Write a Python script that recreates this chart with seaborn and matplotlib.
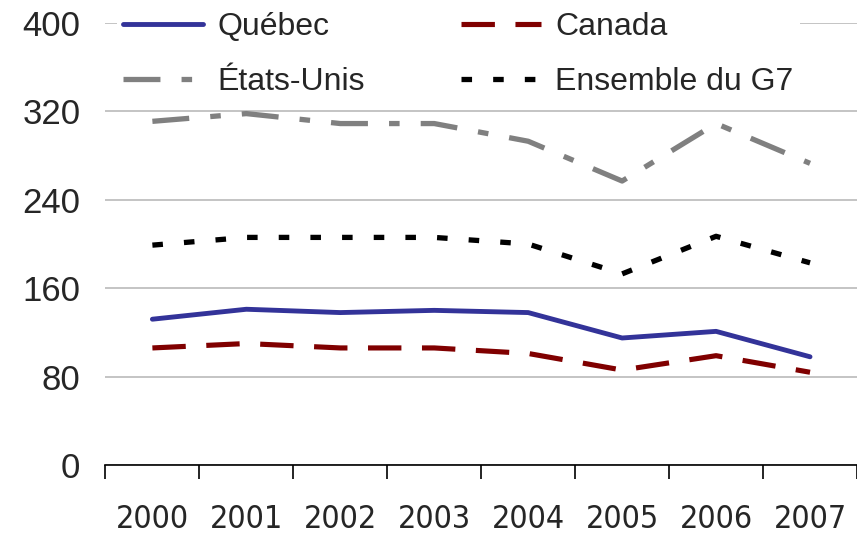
import numpy as np
import pandas as pd
import matplotlib
matplotlib.use("Agg")
import matplotlib.pyplot as plt
from matplotlib.ticker import FixedLocator
from matplotlib.lines import Line2D
import seaborn as sns

years = ["2000", "2001", "2002", "2003", "2004", "2005", "2006", "2007"]
quebec = [132, 141, 138, 140, 138, 115, 121, 98]
canada = [106, 110, 106, 106, 101, 86, 99, 84]
etats_unis = [311, 318, 309, 309, 293, 257, 309, 273]
g7 = [199, 206, 206, 206, 200, 173, 207, 183]
yticks = [0, 80, 160, 240, 320, 400]

series = {"Québec": quebec, "Canada": canada, "États-Unis": etats_unis, "Ensemble du G7": g7}
df = pd.DataFrame([
    {"annee": i, "serie": name, "valeur": v}
    for name, vals in series.items() for i, v in enumerate(vals)
])

palette = {"Québec": "#333399", "Canada": "#800000", "États-Unis": "#808080", "Ensemble du G7": "#000000"}
# dash patterns in units of line width (matplotlib scales them)
dashes = {"Québec": None, "Canada": (6.5, 4), "États-Unis": (7, 4, 2, 4), "Ensemble du G7": (2, 4)}
widths = {"Québec": 3.5, "Canada": 3.7, "États-Unis": 3.8, "Ensemble du G7": 3.8}

sns.set_style("white")
plt.rcParams["font.family"] = ["Liberation Sans", "DejaVu Sans"]

fig = plt.figure(figsize=(8.57, 5.34), dpi=100)
ax = fig.add_axes([0.123, 0.129, 0.877, 0.828])

for name in series:
    sns.lineplot(data=df[df["serie"] == name], x="annee", y="valeur",
                 color=palette[name], lw=widths[name], ax=ax, legend=False)
    if dashes[name]:
        ax.get_lines()[-1].set_dashes(dashes[name])

ax.set_ylim(0, 400)
ax.set_xlim(-0.5, 7.5)
ax.set_yticks(yticks)
ax.grid(axis="y", color="#c4c4c4", lw=1.4)
ax.set_axisbelow(True)
for s in ["left", "right", "top"]:
    ax.spines[s].set_visible(False)
ax.spines["bottom"].set_color("black")
ax.spines["bottom"].set_linewidth(1.2)

ax.set_xticks(range(len(years)))
ax.set_xticklabels(years, family="DejaVu Sans", stretch="condensed", fontsize=23)
ax.xaxis.set_minor_locator(FixedLocator(np.arange(-0.5, 8, 1)))
ax.tick_params(axis="x", which="major", length=0, pad=28)
ax.tick_params(axis="x", which="minor", length=10, width=1.2, color="black", bottom=True)
ax.tick_params(axis="y", length=0, labelsize=25, pad=18)
ax.set_xlabel("")
ax.set_ylabel("")

order = ["Québec", "États-Unis", "Canada", "Ensemble du G7"]
handles = []
for name in order:
    h = Line2D([], [], color=palette[name], lw=widths[name])
    if dashes[name]:
        h.set_dashes(dashes[name])
    handles.append(h)
leg = fig.legend(handles, order, loc="upper left", bbox_to_anchor=(0.118, 1.02), ncol=2,
                 fontsize=23, frameon=True, handlelength=2.5, labelspacing=0.8,
                 columnspacing=3.0, handletextpad=0.45, borderpad=0.2)
leg.get_frame().set_facecolor("white")
leg.get_frame().set_edgecolor("none")
leg.get_frame().set_alpha(1)

fig.savefig("out.png", dpi=100)
